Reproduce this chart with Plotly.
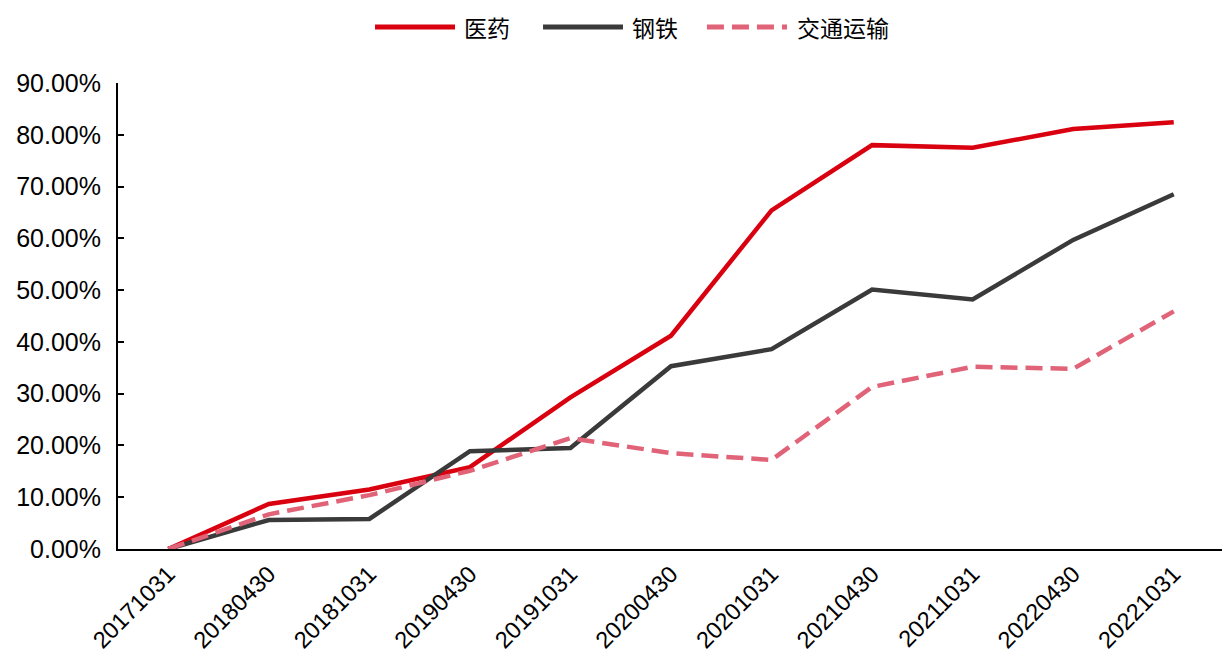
import plotly.graph_objects as go

dates = ["20171031", "20180430", "20181031", "20190430", "20191031", "20200430",
         "20201031", "20210430", "20211031", "20220430", "20221031"]
yiyao = [0.0, 8.7, 11.5, 15.8, 29.3, 41.2, 65.4, 78.0, 77.5, 81.1, 82.4]
gangtie = [0.0, 5.6, 5.8, 18.9, 19.5, 35.3, 38.6, 50.1, 48.2, 59.7, 68.5]
jiaotong = [0.0, 6.7, 10.4, 15.1, 21.4, 18.5, 17.2, 31.3, 35.2, 34.8, 45.9]

names = ["医药", "钢铁", "交通运输"]
colors = ["#D9000F", "#3A3A3A", "#E06377"]
dashes = ["solid", "solid", "17px,8px"]

fig = go.Figure()
for name, vals, c, d in zip(names, [yiyao, gangtie, jiaotong], colors, dashes):
    fig.add_trace(go.Scatter(
        x=dates, y=[v / 100 for v in vals], mode="lines", name=name,
        line=dict(color=c, width=4.5, dash=d),
    ))

# custom legend (long line samples like the reference)
leg_y = 1.12
leg_items = [(0.2324, 0.3047, 0.3110), (0.3843, 0.4566, 0.4629), (0.5325, 0.6049, 0.6121)]
for (x0, x1, xt), name, c, d in zip(leg_items, names, colors, dashes):
    fig.add_shape(type="line", xref="paper", yref="paper", x0=x0, x1=x1, y0=leg_y, y1=leg_y,
                  line=dict(color=c, width=5, dash=d))
    fig.add_annotation(xref="paper", yref="paper", x=xt, y=leg_y, text=name, showarrow=False,
                       xanchor="left", yanchor="middle",
                       font=dict(size=23, family="Noto Sans CJK SC", color="black"))

fig.update_layout(
    width=1222, height=649,
    margin=dict(l=110, r=6, t=75, b=108),
    paper_bgcolor="white", plot_bgcolor="white",
    font=dict(family="Liberation Sans, Arial", size=24, color="black"),
    showlegend=False,
)
fig.update_xaxes(type="category", range=[-0.5, 10.5], showline=True, linecolor="black",
                 linewidth=2, ticks="", tickangle=-45, showgrid=False, zeroline=False,
                 tickfont=dict(size=23.5), automargin=False)
fig.update_yaxes(range=[0, 0.9], dtick=0.1, tickformat=".2%", showline=True, linecolor="black",
                 linewidth=2, ticks="inside", ticklen=6, tickwidth=2, tickcolor="black",
                 showgrid=False, zeroline=False, tickfont=dict(size=25), ticklabelstandoff=10,
                 automargin=False)

fig.write_html("out.html")
